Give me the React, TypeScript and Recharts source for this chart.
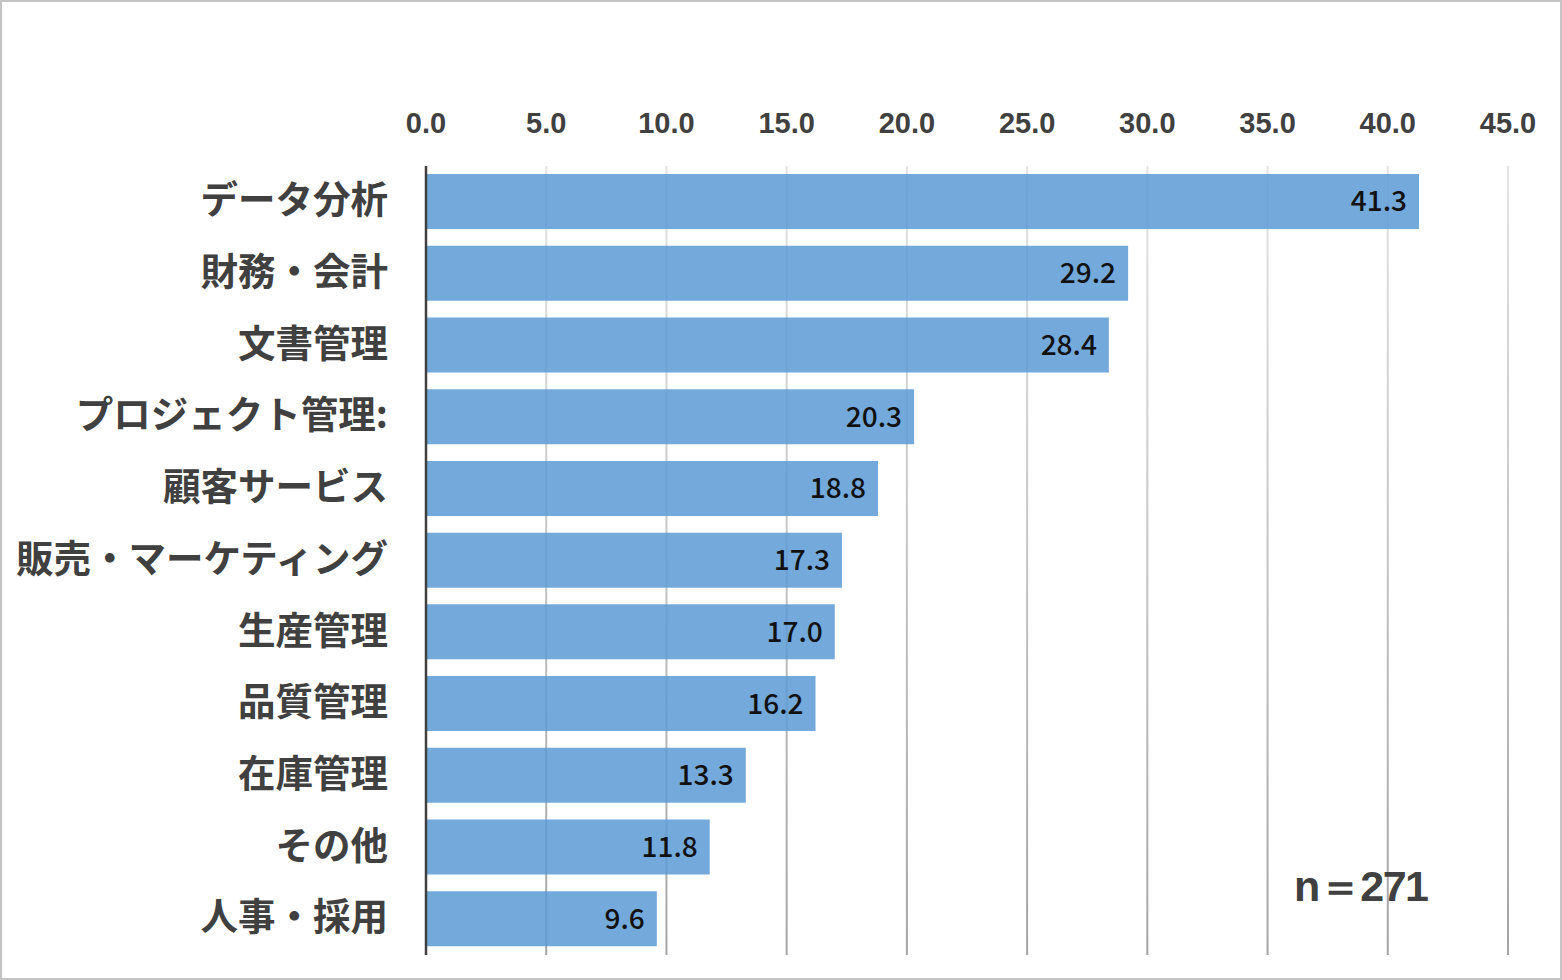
import { BarChart, Bar, XAxis, YAxis, CartesianGrid, LabelList } from 'recharts'

const categories = [
  'データ分析',
  '財務・会計',
  '文書管理',
  'プロジェクト管理:',
  '顧客サービス',
  '販売・マーケティング',
  '生産管理',
  '品質管理',
  '在庫管理',
  'その他',
  '人事・採用',
]
const shares = [41.3, 29.2, 28.4, 20.3, 18.8, 17.3, 17.0, 16.2, 13.3, 11.8, 9.6]
const xTicks = [0, 5, 10, 15, 20, 25, 30, 35, 40, 45]
const sampleLabel = 'n＝271'

const data = categories.map((name, i) => ({ name, value: shares[i] }))

const textColor = '#404040'

export default function App() {
  return (
    <div
      style={{
        position: 'absolute',
        top: 0,
        left: 0,
        width: 1562,
        height: 980,
        background: '#fff',
      }}
    >
      <BarChart
        width={1562}
        height={980}
        data={data}
        layout="vertical"
        margin={{ top: 106, right: 54, bottom: 25, left: 0 }}
      >
        <defs>
          <linearGradient id="gridFade" gradientUnits="userSpaceOnUse" x1="0" y1="166" x2="0" y2="955">
            <stop offset="0%" stopColor="#e4e4e4" />
            <stop offset="100%" stopColor="#a4a4a4" />
          </linearGradient>
        </defs>
        <CartesianGrid horizontal={false} stroke="url(#gridFade)" strokeWidth={2} />
        <XAxis
          type="number"
          orientation="top"
          domain={[0, 45]}
          ticks={xTicks}
          tickFormatter={(v: number) => v.toFixed(1)}
          axisLine={false}
          tickLine={false}
          tickSize={0}
          tickMargin={33}
          height={60}
          interval={0}
          tick={{
            fill: textColor,
            fontSize: 29,
            fontWeight: 700,
            fontFamily: '"Liberation Sans", Arial, sans-serif',
          }}
        />
        <YAxis
          type="category"
          dataKey="name"
          width={426}
          axisLine={{ stroke: textColor, strokeWidth: 2.5 }}
          tickLine={false}
          tickSize={0}
          tickMargin={38}
          interval={0}
          tick={{
            fill: textColor,
            fontSize: 37.5,
            fontWeight: 700,
            fontFamily: '"Noto Sans CJK JP", sans-serif',
            dy: -2,
          }}
        />
        <Bar dataKey="value" fill="#5b9bd5" fillOpacity={0.85} barSize={55} isAnimationActive={false}>
          <LabelList
            dataKey="value"
            position="insideRight"
            offset={12}
            formatter={(v: number) => v.toFixed(1)}
            style={{
              fill: '#111111',
              fontSize: 28,
              fontWeight: 500,
              fontFamily: '"Noto Sans CJK JP", sans-serif',
            }}
          />
        </Bar>
      </BarChart>
      <div
        style={{
          position: 'absolute',
          left: 1294,
          top: 865,
          fontSize: 43,
          fontWeight: 700,
          lineHeight: 1,
          letterSpacing: -1.5,
          color: textColor,
          fontFamily: '"Liberation Sans", Arial, sans-serif',
          whiteSpace: 'nowrap',
        }}
      >
        {sampleLabel}
      </div>
      <div
        style={{
          position: 'absolute',
          inset: 0,
          border: '2px solid #c4c4c4',
          pointerEvents: 'none',
        }}
      />
    </div>
  )
}
